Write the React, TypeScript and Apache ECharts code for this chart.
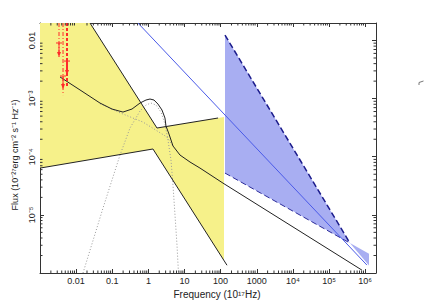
import { useEffect, useRef } from 'react';
import * as echarts from 'echarts';

// Axis ranges
const X_MIN = 0.001;
const X_MAX = 2e6;
const Y_MIN = 1e-6;
const Y_MAX = 0.02;

// Tick labels
const xTickExp = [-2, -1, 0, 1, 2, 3, 4, 5, 6];
const xTickText = ['0.01', '0.1', '1', '10', '100', '1000', '10⁴', '10⁵', '10⁶'];
const yTickExp = [-2, -3, -4, -5];
const yTickText = ['0.01', '10⁻³', '10⁻⁴', '10⁻⁵'];

// Total model curve (solid black)
const totalFreq = [0.00358, 0.0128, 0.0458, 0.0984, 0.198, 0.352, 0.586, 0.859, 1.11, 1.43, 1.84, 2.38, 2.88, 3.07, 3.72, 4.8, 7.5, 14.2, 26.8, 116, 8.17e5];
const totalFlux = [2.36e-3, 1.41e-3, 8.39e-4, 6.62e-4, 5.87e-4, 6.62e-4, 8.39e-4, 9.46e-4, 9.84e-4, 9.46e-4, 8.07e-4, 6.37e-4, 4.63e-4, 3.38e-4, 2.46e-4, 1.53e-4, 1.07e-4, 8.11e-5, 6.39e-5, 3.52e-5, 1.12e-6];

// Thermal bump component (dotted)
const bumpFreq = [0.0155, 0.0555, 0.164, 0.31, 0.586, 0.859, 1.18, 1.63, 2.23, 2.88, 3.49, 4.23, 4.8, 5.46, 6.2, 6.81];
const bumpFlux = [1e-6, 1.31e-5, 1.07e-4, 3.12e-4, 6.11e-4, 7.76e-4, 8.39e-4, 7.76e-4, 5.87e-4, 3.66e-4, 1.94e-4, 8.77e-5, 3.26e-5, 9.91e-6, 3.02e-6, 1e-6];

// Power-law component under the bump (dotted)
const plFreq = [0.0458, 0.164, 0.71, 3.27, 4.8];
const plFlux = [8.2e-4, 5.7e-4, 3.95e-4, 2.18e-4, 1.53e-4];

// Yellow uncertainty region
const yellowFreq = [0.001, 0.0242, 1.73, 124, 124, 1.34, 0.001];
const yellowFlux = [0.02, 0.02, 3.12e-4, 4.82e-4, 1.64e-6, 1.36e-4, 6.38e-5];
const yellowTopFreq = [0.0242, 1.73, 85];
const yellowTopFlux = [0.02, 3.12e-4, 4.64e-4];
const yellowBotFreq = [0.001, 1.34, 150];
const yellowBotFlux = [6.38e-5, 1.36e-4, 1.36e-6];

// Blue uncertainty region
const blueFreq = [132, 3.8e5, 132];
const blueFlux = [0.0124, 3.27e-6, 5.24e-5];
const blueTailFreq = [3.8e5, 1.28e6, 1.28e6];
const blueTailFlux = [3.27e-6, 2.14e-6, 1.35e-6];
const blueUpFreq = [132, 3.8e5];
const blueUpFlux = [0.0124, 3.27e-6];
const blueLowFreq = [132, 3.8e5];
const blueLowFlux = [5.24e-5, 3.27e-6];
const blueLineFreq = [0.515, 1.12e6];
const blueLineFlux = [0.02, 1.37e-6];

// Upper limits
const limFreq = [0.00336, 0.00559, 0.00434];
const limCap = [0.00906, 0.00443, 0.00245];
const limArrow = [0.0052, 0.00255, 0.00146];
const limEnd = [0.0052, 0.00152, 0.00115];

const FONT = 'Liberation Sans, Arial, Helvetica, sans-serif';
const AXIS_COLOR = '#333';
const RED = '#ff2a2a';

function zip(a: number[], b: number[]) {
  return a.map((v, i) => [v, b[i]]);
}

function fmt(v: number, exps: number[], texts: string[]) {
  const e = Math.log10(v);
  const r = Math.round(e);
  if (Math.abs(e - r) > 1e-6) return '';
  const i = exps.indexOf(r);
  return i >= 0 ? texts[i] : '';
}

function polygonSeries(freqs: number[], fluxes: number[], fill: string) {
  const data = zip(freqs, fluxes);
  return {
    type: 'custom',
    coordinateSystem: 'cartesian2d',
    clip: true,
    silent: true,
    z: 1,
    data,
    renderItem: (params: any, api: any) => {
      if (params.dataIndex !== 0) return null;
      const pts = data.map((d) => api.coord(d));
      return { type: 'polygon', shape: { points: pts }, style: { fill, stroke: null } };
    },
  };
}

function lineSeries(freqs: number[], fluxes: number[], style: any, z = 3) {
  return {
    type: 'line',
    data: zip(freqs, fluxes),
    symbol: 'none',
    showSymbol: false,
    silent: true,
    clip: true,
    z,
    lineStyle: style,
  };
}

export default function App() {
  const ref = useRef<HTMLDivElement>(null);
  useEffect(() => {
    if (!ref.current) return;
    const chart = echarts.init(ref.current, null, { renderer: 'svg' });

    const minorX: number[] = [];
    for (let d = -3; d <= 6; d++) {
      for (let k = 2; k <= 9; k++) {
        const v = k * Math.pow(10, d);
        if (v > X_MIN && v < X_MAX) minorX.push(v);
      }
    }
    const minorY: number[] = [];
    for (let d = -6; d <= -2; d++) {
      for (let k = 2; k <= 9; k++) {
        const v = k * Math.pow(10, d);
        if (v > Y_MIN && v < Y_MAX * 0.999) minorY.push(v);
      }
    }

    const axisCommon = {
      type: 'log',
      logBase: 10,
      splitLine: { show: false },
      axisLine: { show: true, lineStyle: { color: AXIS_COLOR, width: 1 } },
      axisTick: { show: true, inside: true, length: 4, lineStyle: { color: AXIS_COLOR, width: 1 } },
    };

    const option: any = {
      animation: false,
      backgroundColor: '#fff',
      grid: { left: 40, right: 49, top: 23, bottom: 27, containLabel: false, outerBoundsMode: 'none' },
      xAxis: [
        {
          ...axisCommon,
          position: 'bottom',
          min: X_MIN,
          max: X_MAX,
          axisLabel: {
            show: true,
            margin: 3,
            fontSize: 9,
            color: '#222',
            fontFamily: FONT,
            formatter: (v: number) => fmt(v, xTickExp, xTickText),
          },
          name: 'Frequency (10¹⁷Hz)',
          nameLocation: 'middle',
          nameGap: 11,
          nameTextStyle: { fontSize: 10, color: '#222', fontFamily: FONT, padding: [0, 0, 0, 18] },
        },
        {
          ...axisCommon,
          position: 'top',
          min: X_MIN,
          max: X_MAX,
          axisLabel: { show: false },
        },
      ],
      yAxis: [
        {
          ...axisCommon,
          position: 'left',
          min: Y_MIN,
          max: Y_MAX,
          axisLabel: {
            show: true,
            rotate: 90,
            margin: 4,
            fontSize: 9,
            color: '#222',
            fontFamily: FONT,
            formatter: (v: number) => fmt(v, yTickExp, yTickText),
          },
          name: 'Flux (10⁻²⁷erg cm⁻² s⁻¹ Hz⁻¹)',
          nameLocation: 'middle',
          nameRotate: 90,
          nameGap: 20,
          nameTextStyle: { fontSize: 9, color: '#222', fontFamily: FONT, padding: [0, 14, 0, 0] },
        },
        {
          ...axisCommon,
          position: 'right',
          min: Y_MIN,
          max: Y_MAX,
          axisLabel: { show: false },
        },
      ],
      graphic: [
        {
          type: 'polyline',
          shape: { points: [[419, 85], [419, 82.5], [423.5, 81]] },
          style: { stroke: '#777', lineWidth: 1, fill: null },
        },
      ],
      series: [
        polygonSeries(yellowFreq, yellowFlux, '#f6f18a'),
        polygonSeries(blueFreq, blueFlux, '#a8aef2'),
        polygonSeries(blueTailFreq, blueTailFlux, '#a8aef2'),
        lineSeries(bumpFreq, bumpFlux, { color: '#999', width: 1, type: [1, 2] }, 2),
        lineSeries(plFreq, plFlux, { color: '#999', width: 1, type: [1, 2] }, 2),
        lineSeries(yellowTopFreq, yellowTopFlux, { color: '#222', width: 1 }, 3),
        lineSeries(yellowBotFreq, yellowBotFlux, { color: '#222', width: 1 }, 3),
        lineSeries(totalFreq, totalFlux, { color: '#222', width: 1 }, 4),
        lineSeries(blueUpFreq, blueUpFlux, { color: '#1c1c8c', width: 1.5, type: [6, 3] }, 4),
        lineSeries(blueLowFreq, blueLowFlux, { color: '#2a2a9a', width: 1, type: [6, 3] }, 4),
        lineSeries(blueLineFreq, blueLineFlux, { color: '#4a5ae8', width: 1 }, 5),
        {
          type: 'custom',
          coordinateSystem: 'cartesian2d',
          silent: true,
          z: 6,
          data: limFreq.map((f, i) => [f, limCap[i], limArrow[i], limEnd[i]]),
          renderItem: (params: any, api: any) => {
            const x = api.value(0);
            const pc = api.coord([x, api.value(1)]);
            const pa = api.coord([x, api.value(2)]);
            const pe = api.coord([x, api.value(3)]);
            const px = pc[0];
            const top = params.coordSys.y;
            const thick = params.dataIndex === 1;
            const w = thick ? 2 : 1;
            return {
              type: 'group',
              children: [
                {
                  type: 'line',
                  shape: { x1: px, y1: top, x2: px, y2: pe[1] },
                  style: { stroke: RED, lineWidth: w, lineDash: thick ? [3, 2] : [4, 2, 1, 2] },
                },
                {
                  type: 'line',
                  shape: { x1: px, y1: pc[1], x2: px, y2: pa[1] - 3 },
                  style: { stroke: RED, lineWidth: w },
                },
                {
                  type: 'line',
                  shape: { x1: px - 3, y1: pc[1], x2: px + 3, y2: pc[1] },
                  style: { stroke: RED, lineWidth: 1 },
                },
                {
                  type: 'polygon',
                  shape: { points: [[px - 2, pa[1] - 5], [px + 2, pa[1] - 5], [px, pa[1]]] },
                  style: { fill: RED },
                },
              ],
            };
          },
        },
        {
          type: 'custom',
          coordinateSystem: 'cartesian2d',
          silent: true,
          z: 7,
          data: minorX.map((v) => [v, Y_MIN]),
          renderItem: (params: any, api: any) => {
            const p = api.coord([api.value(0), Y_MIN]);
            const cs = params.coordSys;
            const b = cs.y + cs.height;
            return {
              type: 'group',
              children: [
                { type: 'line', shape: { x1: p[0], y1: b, x2: p[0], y2: b - 2.5 }, style: { stroke: AXIS_COLOR, lineWidth: 1 } },
                { type: 'line', shape: { x1: p[0], y1: cs.y, x2: p[0], y2: cs.y + 2.5 }, style: { stroke: AXIS_COLOR, lineWidth: 1 } },
              ],
            };
          },
        },
        {
          type: 'custom',
          coordinateSystem: 'cartesian2d',
          silent: true,
          z: 7,
          data: minorY.map((v) => [X_MIN, v]),
          renderItem: (params: any, api: any) => {
            const p = api.coord([X_MIN, api.value(1)]);
            const cs = params.coordSys;
            const r = cs.x + cs.width;
            return {
              type: 'group',
              children: [
                { type: 'line', shape: { x1: cs.x, y1: p[1], x2: cs.x + 2.5, y2: p[1] }, style: { stroke: AXIS_COLOR, lineWidth: 1 } },
                { type: 'line', shape: { x1: r, y1: p[1], x2: r - 2.5, y2: p[1] }, style: { stroke: AXIS_COLOR, lineWidth: 1 } },
              ],
            };
          },
        },
      ],
    };

    chart.setOption(option);
    return () => chart.dispose();
  }, []);

  return (
    <div
      ref={ref}
      style={{ position: 'fixed', left: 0, top: 0, width: 425, height: 300, background: '#fff' }}
    />
  );
}
